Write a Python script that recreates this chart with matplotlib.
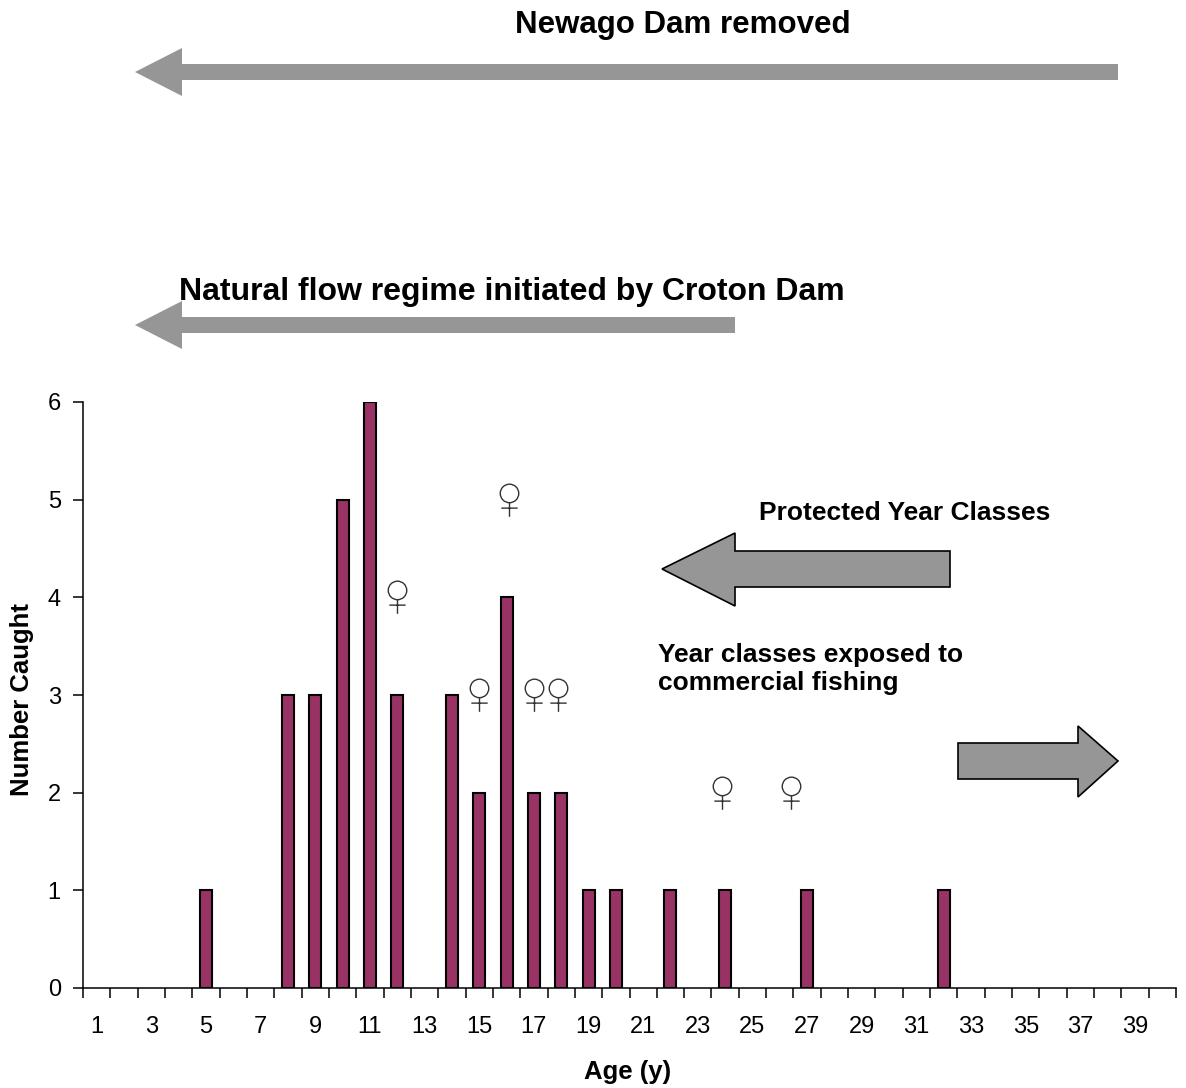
import matplotlib
matplotlib.use("Agg")
import matplotlib.pyplot as plt
from matplotlib.patches import Polygon
from matplotlib.path import Path

plt.rcParams['font.family'] = ['Liberation Sans', 'DejaVu Sans']

# ---- data ----
ages = list(range(1, 41))
bar_ages = [5, 8, 9, 10, 11, 12, 14, 15, 16, 17, 18, 19, 20, 22, 24, 27, 32]
bar_counts = [1, 3, 3, 5, 6, 3, 3, 2, 4, 2, 2, 1, 1, 1, 1, 1, 1]
tick_labels = [str(a) for a in range(1, 40, 2)]
female_x = [12, 15, 16.1, 17, 17.9, 23.9, 26.4]
female_y = [4, 3, 5, 3, 3, 2, 2]

W, H = 1186, 1088
fig = plt.figure(figsize=(W / 100, H / 100), dpi=100)

def fx(x):
    return x / W

def fy(y):
    return 1 - y / H

ax = fig.add_axes([fx(83), fy(988), fx(1176) - fx(83), fy(402) - fy(988)])
ax.bar(bar_ages, bar_counts, width=0.44, color='#993366', edgecolor='black',
       linewidth=1.5, zorder=3)
ax.set_xlim(0.5, 40.5)
ax.set_ylim(0, 6)
ax.set_yticks(range(0, 7))
ax.tick_params(axis='y', direction='out', length=7, width=1.1, labelsize=17, pad=9)
ax.set_xticks([a - 0.5 for a in ages] + [40.5])
ax.set_xticklabels([])
ax.set_xticks(list(range(1, 40, 2)), minor=True)
ax.set_xticklabels(tick_labels, minor=True)
ax.tick_params(axis='x', which='major', direction='out', length=7, width=1.1)
ax.tick_params(axis='x', which='minor', length=0, labelsize=17, pad=20)
for s in ['top', 'right']:
    ax.spines[s].set_visible(False)
for s in ['left', 'bottom']:
    ax.spines[s].set_linewidth(1.1)

# female symbol marker (circle with cross below)
circ = Path.circle((0, 6.5), 8.5)
stem = Path([(0, -2), (0, -15)], [Path.MOVETO, Path.LINETO])
bar_ = Path([(-7.5, -7), (7.5, -7)], [Path.MOVETO, Path.LINETO])
female_marker = Path.make_compound_path(circ, stem, bar_)
ax.plot(female_x, female_y, linestyle='none', marker=female_marker,
        markersize=23.5, markerfacecolor='none', markeredgecolor='#333333',
        markeredgewidth=1.0, zorder=4, clip_on=False)

fig.text(fx(22), fy(699), 'Number Caught', rotation=90, ha='center', va='center',
         fontsize=18.5, fontweight='bold')
fig.text(fx(628), fy(1072), 'Age (y)', ha='center', va='center',
         fontsize=18.5, fontweight='bold')

# ---- annotation arrows ----
def poly(pts, **kw):
    p = Polygon([(fx(x), fy(y)) for x, y in pts], closed=True,
                transform=fig.transFigure, **kw)
    fig.add_artist(p)

grey = '#969696'
# Newago Dam removed
poly([(135, 72), (182, 48), (182, 64), (1118, 64), (1118, 80), (182, 80), (182, 96)],
     facecolor=grey, edgecolor='none')
fig.text(fx(683), fy(25), 'Newago Dam removed', ha='center', va='center',
         fontsize=22.5, fontweight='bold')
# Croton Dam
poly([(135, 325), (182, 301), (182, 317), (735, 317), (735, 333), (182, 333), (182, 349)],
     facecolor=grey, edgecolor='none')
fig.text(fx(512), fy(292), 'Natural flow regime initiated by Croton Dam',
         ha='center', va='center', fontsize=23, fontweight='bold')
# Protected
poly([(662, 569), (735, 533), (735, 551), (950, 551), (950, 587), (735, 587), (735, 606)],
     facecolor=grey, edgecolor='black', linewidth=1.2)
fig.text(fx(905), fy(513), 'Protected Year Classes', ha='center', va='center',
         fontsize=19, fontweight='bold')
# exposed
poly([(958, 743), (1078, 743), (1078, 726), (1118, 761), (1078, 797), (1078, 779), (958, 779)],
     facecolor=grey, edgecolor='black', linewidth=1.2)
fig.text(fx(658), fy(669), 'Year classes exposed to\ncommercial fishing', ha='left',
         va='center', fontsize=19, fontweight='bold', linespacing=1.2)

fig.savefig('out.png', dpi=100)
